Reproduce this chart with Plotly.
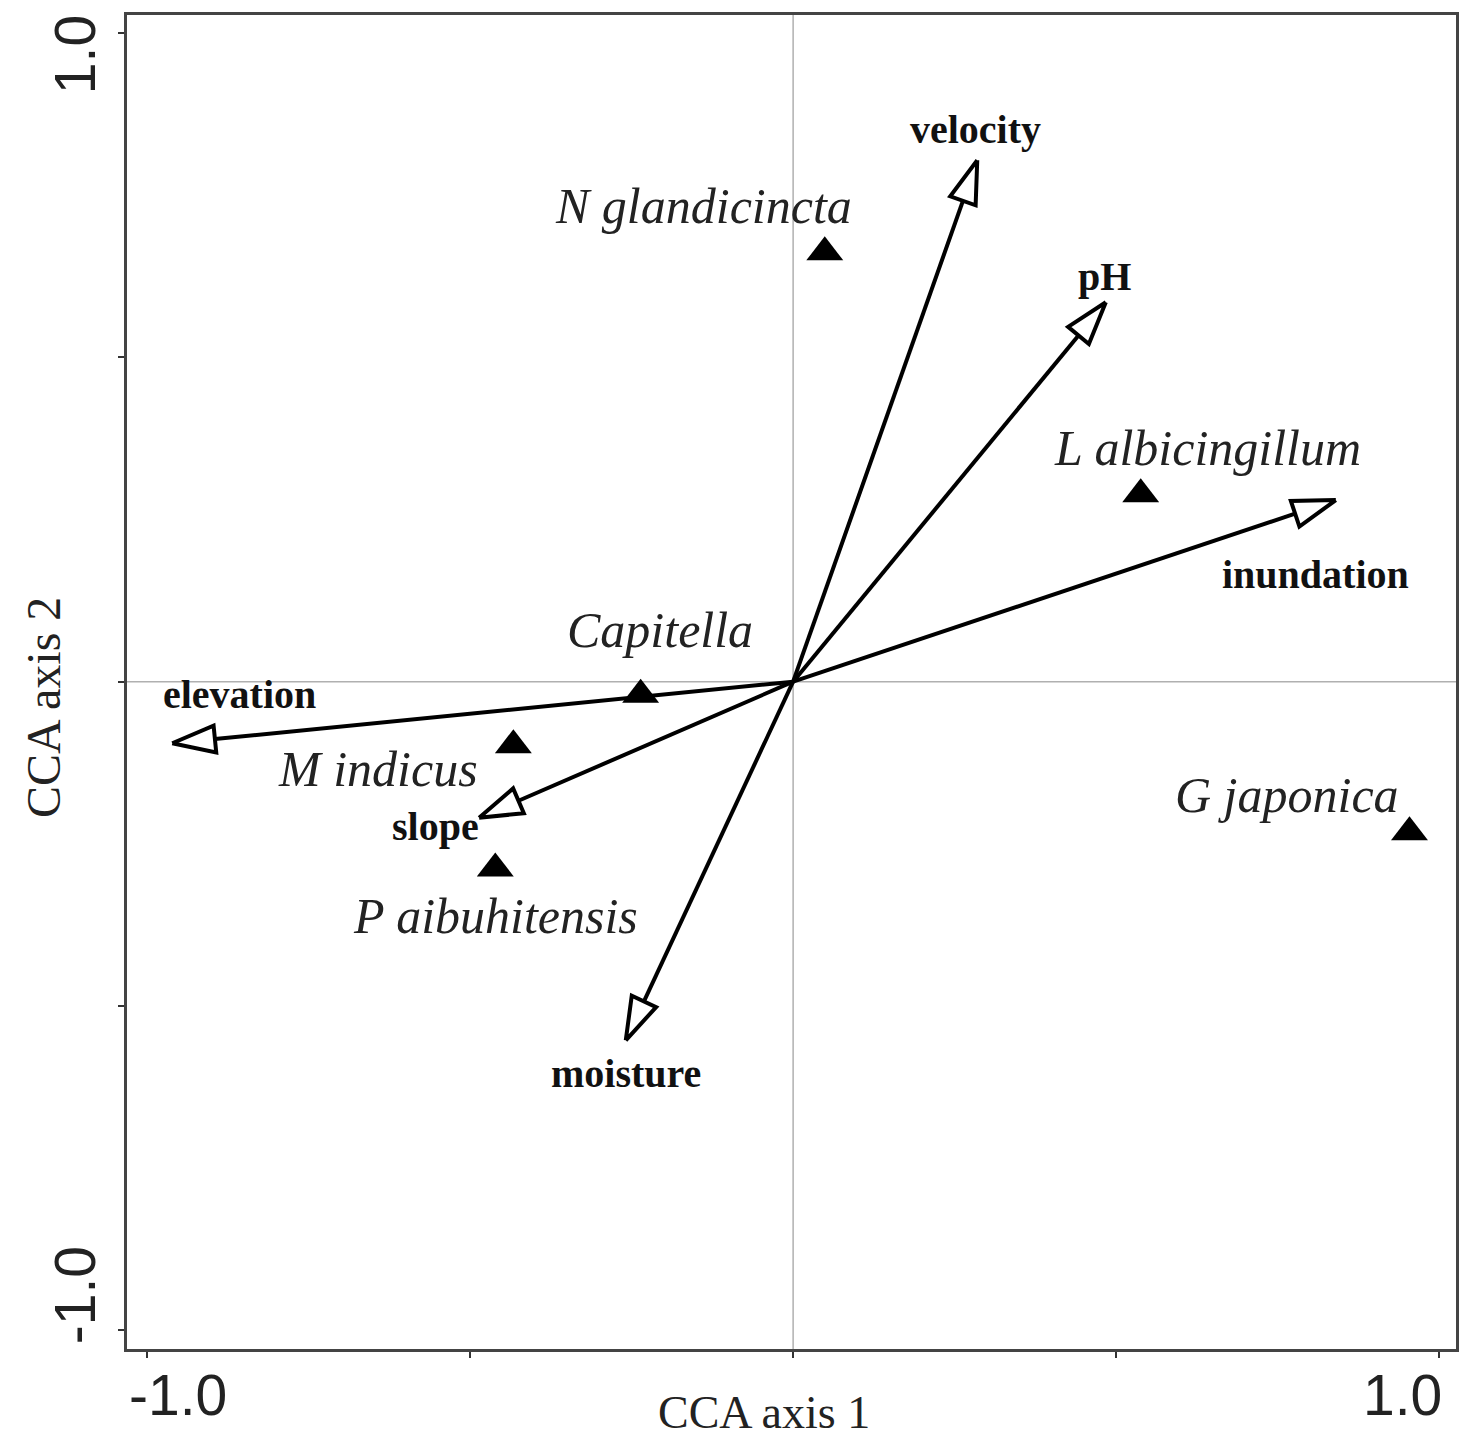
import numpy as np
import plotly.graph_objects as go

# Environmental variable biplot vectors (CCA axis 1, CCA axis 2)
env_names = ["velocity", "pH", "inundation", "elevation", "slope", "moisture"]
env_x = [0.285, 0.484, 0.840, -0.961, -0.486, -0.259]
env_y = [0.804, 0.585, 0.280, -0.095, -0.210, -0.553]

# Species scores
sp_names = ["N glandicincta", "L albicingillum", "Capitella", "M indicus",
            "P aibuhitensis", "G japonica"]
sp_x = [0.049, 0.538, -0.236, -0.433, -0.461, 0.954]
sp_y = [0.662, 0.289, -0.020, -0.098, -0.288, -0.232]

# Axis tick positions and labels
tick_vals = [-1.0, -0.5, 0.0, 0.5, 1.0]
tick_text = ["-1.0", "", "", "", "1.0"]

W, H = 1467, 1442
M = dict(l=127, r=8, t=15, b=93)
XR = [-1.031, 1.026]
YR = [-1.029, 1.028]
px_x = (W - M["l"] - M["r"]) / (XR[1] - XR[0])
px_y = (H - M["t"] - M["b"]) / (YR[1] - YR[0])

SERIF = "Liberation Serif, Times New Roman, serif"
SANS = "Liberation Sans, Arial, sans-serif"

fig = go.Figure()

# Reference lines through the origin
fig.add_shape(type="line", x0=0, x1=0, y0=YR[0], y1=YR[1],
              line=dict(color="#b0b0b0", width=1.5), layer="below")
fig.add_shape(type="line", x0=XR[0], x1=XR[1], y0=0, y1=0,
              line=dict(color="#b0b0b0", width=1.5), layer="below")

HEAD_LEN = 43.0   # px
HEAD_HALF = 13.5  # px
LW = 4

for name, vx, vy in zip(env_names, env_x, env_y):
    # work in pixel space so the heads keep their shape
    tx, ty = vx * px_x, vy * px_y
    length = np.hypot(tx, ty)
    ux, uy = tx / length, ty / length
    bx, by = tx - ux * HEAD_LEN, ty - uy * HEAD_LEN
    nx, ny = -uy, ux
    c1 = (bx + nx * HEAD_HALF, by + ny * HEAD_HALF)
    c2 = (bx - nx * HEAD_HALF, by - ny * HEAD_HALF)
    # shaft
    fig.add_trace(go.Scatter(x=[0, bx / px_x], y=[0, by / px_y], mode="lines",
                             line=dict(color="black", width=LW),
                             hoverinfo="skip", showlegend=False))
    # open triangular head
    hx = [tx / px_x, c1[0] / px_x, c2[0] / px_x, tx / px_x]
    hy = [ty / px_y, c1[1] / px_y, c2[1] / px_y, ty / px_y]
    fig.add_trace(go.Scatter(x=hx, y=hy, mode="lines", fill="toself",
                             fillcolor="white",
                             line=dict(color="black", width=LW),
                             hoverinfo="skip", showlegend=False))

fig.add_trace(go.Scatter(x=sp_x, y=sp_y, mode="markers",
                         marker=dict(symbol="triangle-up", size=32, color="black",
                                     line=dict(width=0)),
                         hoverinfo="skip", showlegend=False))

# Label positions in data units
env_lab_pos = {
    "velocity": (0.283, 0.851),
    "pH": (0.482, 0.625),
    "inundation": (0.809, 0.166),
    "elevation": (-0.857, -0.019),
    "slope": (-0.554, -0.223),
    "moisture": (-0.259, -0.604),
}

sp_lab_pos = {
    "N glandicincta": (-0.138, 0.734),
    "L albicingillum": (0.642, 0.360),
    "Capitella": (-0.206, 0.080),
    "M indicus": (-0.643, -0.134),
    "P aibuhitensis": (-0.461, -0.361),
    "G japonica": (0.765, -0.175),
}

for name in env_names:
    lx, ly = env_lab_pos[name]
    fig.add_annotation(x=lx, y=ly, text="<b>%s</b>" % name, showarrow=False,
                       font=dict(family=SERIF, size=40, color="#111"))
for name in sp_names:
    lx, ly = sp_lab_pos[name]
    fig.add_annotation(x=lx, y=ly, text="<i>%s</i>" % name, showarrow=False,
                       font=dict(family=SERIF, size=50, color="#222"))

# Tick labels at the axis ends
tick_font = dict(family=SANS, size=57, color="#222")
fig.add_annotation(x=-1.0, y=0, yref="paper", xshift=31, yshift=-46,
                   xanchor="center", yanchor="middle",
                   text=tick_text[0], showarrow=False, font=tick_font)
fig.add_annotation(x=1.0, y=0, yref="paper", xshift=-37, yshift=-46,
                   xanchor="center", yanchor="middle",
                   text=tick_text[-1], showarrow=False, font=tick_font)
fig.add_annotation(y=-1.0, x=0, xref="paper", xshift=-52, yshift=35,
                   xanchor="center", yanchor="middle",
                   text=tick_text[0], showarrow=False, textangle=-90,
                   font=tick_font)
fig.add_annotation(y=1.0, x=0, xref="paper", xshift=-52, yshift=-22,
                   xanchor="center", yanchor="middle",
                   text=tick_text[-1], showarrow=False, textangle=-90,
                   font=tick_font)

# Axis titles
fig.add_annotation(x=0.5, y=0, xref="paper", yref="paper", yshift=-63,
                   xshift=-28, xanchor="center", yanchor="middle",
                   text="CCA axis 1", showarrow=False,
                   font=dict(family=SERIF, size=46, color="#222"))
fig.add_annotation(x=0, y=0.5, xref="paper", yref="paper", xshift=-84,
                   yshift=-26, xanchor="center", yanchor="middle",
                   text="CCA axis 2", showarrow=False, textangle=-90,
                   font=dict(family=SERIF, size=48, color="#222"))

axis_common = dict(showgrid=False, zeroline=False, showline=True, mirror=True,
                   linecolor="#444", linewidth=3, ticks="outside", ticklen=6,
                   tickwidth=2, tickcolor="#333", tickvals=tick_vals,
                   showticklabels=False)
fig.update_xaxes(range=XR, **axis_common)
fig.update_yaxes(range=YR, **axis_common)

fig.update_layout(width=W, height=H, margin=M, plot_bgcolor="white",
                  paper_bgcolor="white", showlegend=False)

fig.write_html("out.html")
